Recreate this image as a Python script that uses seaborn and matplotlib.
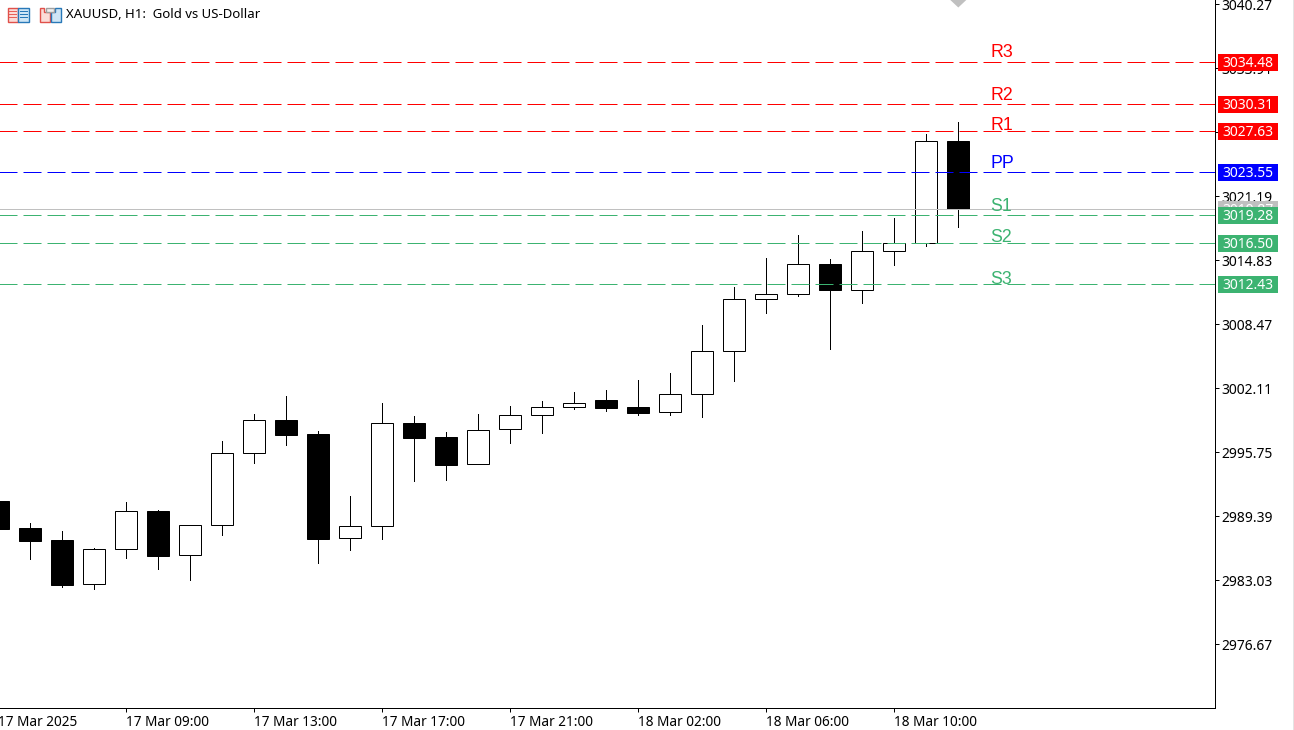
import matplotlib

matplotlib.use("Agg")
import matplotlib.pyplot as plt
import numpy as np
import pandas as pd
import seaborn as sns
from matplotlib.patches import Polygon, Rectangle
from matplotlib.transforms import IdentityTransform

WIDTH, HEIGHT = 1294, 730
PX = 0.72  # one pixel in points at dpi 100

bar_open = [2990.92, 2988.24, 2987.02, 2982.65, 2986.12, 2989.90, 2985.53, 2988.51, 2995.66, 2998.93, 2997.57,
            2987.22, 2988.41, 2998.64, 2997.28, 2994.59, 2998.04, 2999.43, 3000.23, 3000.92, 3000.23, 2999.73,
            3001.52, 3005.79, 3010.95, 3011.45, 3014.43, 3011.90, 3015.72, 3016.51, 3026.67]
bar_high = [2990.92, 2988.71, 2987.94, 2986.25, 2990.82, 2990.03, 2988.51, 2996.88, 2999.56, 3001.35, 2997.84,
            2991.42, 3000.65, 2999.36, 2997.77, 2999.56, 3000.35, 3000.85, 3001.74, 3001.94, 3002.94, 3003.60,
            3008.37, 3012.14, 3015.02, 3017.33, 3014.95, 3017.73, 3019.02, 3027.36, 3028.56]
bar_low = [2988.14, 2985.19, 2982.41, 2982.21, 2985.29, 2984.20, 2983.11, 2987.57, 2994.72, 2996.51, 2984.79,
           2986.08, 2987.18, 2992.94, 2993.01, 2994.59, 2996.71, 2997.70, 3000.06, 2999.89, 2999.49, 2999.49,
           2999.29, 3002.87, 3009.62, 3011.31, 3006.04, 3010.61, 3014.39, 3016.27, 3018.16]
bar_close = [2988.14, 2986.98, 2982.61, 2986.12, 2989.90, 2985.49, 2988.51, 2995.66, 2998.93, 2997.50, 2987.18,
             2988.41, 2998.64, 2997.21, 2994.53, 2997.94, 2999.43, 3000.23, 3000.62, 3000.19, 2999.69, 3001.52,
             3005.79, 3010.95, 3011.45, 3014.43, 3011.90, 3015.72, 3016.51, 3026.64, 3019.87]

level_names = ["R3", "R2", "R1", "PP", "S1", "S2", "S3"]
level_prices = [3034.48, 3030.31, 3027.63, 3023.55, 3019.28, 3016.50, 3012.43]
level_label_prices = [3035.04, 3030.74, 3027.76, 3024.02, 3019.72, 3016.61, 3012.47]
level_colors = ["#FF0000", "#FF0000", "#FF0000", "#0000FF", "#3CB371", "#3CB371", "#3CB371"]
level_label_bar = 31

bid_price = 3019.87
price_ticks = [3040.27, 3033.91, 3027.55, 3021.19, 3014.83, 3008.47, 3002.11, 2995.75, 2989.39, 2983.03, 2976.67]
time_ticks = [0, 4, 8, 12, 16, 20, 24, 28]
time_labels = ["17 Mar 2025", "17 Mar 09:00", "17 Mar 13:00", "17 Mar 17:00",
               "17 Mar 21:00", "18 Mar 02:00", "18 Mar 06:00", "18 Mar 10:00"]
title = "XAUUSD, H1:  Gold vs US-Dollar"

sns.set_theme(style="white", rc={"lines.scale_dashes": False})
plt.rcParams["font.family"] = ["Noto Sans", "DejaVu Sans"]
PRICE_FONT = 10.0
TIME_FONT = 9.8
TITLE_FONT = 9.5


def px_rect(fig, x, y, w, h, color, edge="none", zorder=8):
    # x, y from the top left of the picture, in pixels
    fig.add_artist(Rectangle((x, HEIGHT - y - h), w, h, transform=IdentityTransform(), facecolor=color,
                             edgecolor=edge, linewidth=1.4 * PX if edge != "none" else 0, zorder=zorder))


def price_tag(fig, ax, price, text, color, zorder):
    y = ax.transData.transform((0, price))[1]
    fig.add_artist(Rectangle((1218, y - 8.5), 60, 17, transform=IdentityTransform(), facecolor=color,
                             edgecolor="none", zorder=zorder))
    fig.text(1222, y - 1.5, text, transform=IdentityTransform(), color="white", fontsize=PRICE_FONT,
             va="center", ha="left", zorder=zorder + 0.5)


def draw_icons(fig):
    # book icon
    px_rect(fig, 7.5, 7.5, 10.5, 14.5, "#FBDCD8", "#E0504A")
    px_rect(fig, 18, 7.5, 10.5, 14.5, "#CFE6F6", "#2878B8")
    for y in (10.5, 13.5, 16.5):
        px_rect(fig, 9, y, 8, 1.6, "#E8605A", zorder=9)
        px_rect(fig, 19.5, y, 8, 1.6, "#2878B8", zorder=9)
    # two documents with the grey tab between them
    red = [(39.5, 7.5), (44, 7.5), (44, 12), (50, 12), (50, 22), (39.5, 22)]
    blue = [(50.5, 22), (50.5, 12), (55, 12), (55, 7.5), (60.5, 7.5), (60.5, 22)]
    for pts, face, edge in ((red, "#FBDCD8", "#E0504A"), (blue, "#CFE6F6", "#2878B8")):
        xy = [(x, HEIGHT - y) for x, y in pts]
        fig.add_artist(Polygon(xy, transform=IdentityTransform(), facecolor=face, edgecolor=edge,
                               linewidth=1.4 * PX, zorder=8))
    px_rect(fig, 46, 7.5, 8, 4, "#F0F0F0", "#A0A0A0")


def main():
    candles = pd.DataFrame({"bar": np.arange(len(bar_open)), "open": bar_open, "high": bar_high,
                            "low": bar_low, "close": bar_close})
    candles["height"] = (candles["close"] - candles["open"]).abs()
    candles["bottom"] = candles[["open", "close"]].min(axis=1)
    wicks = candles.melt(id_vars="bar", value_vars=["high", "low"], value_name="price")

    fig = plt.figure(figsize=(WIDTH / 100, HEIGHT / 100), dpi=100, facecolor="white")
    ax = fig.add_axes([-1.7 / WIDTH, 22 / HEIGHT, 1217.0 / WIDTH, 708 / HEIGHT])

    sns.lineplot(data=wicks, x="bar", y="price", units="bar", estimator=None, sort=False, color="black",
                 linewidth=PX, ax=ax, zorder=0.5, antialiased=False)
    for rising, face in ((True, "white"), (False, "black")):
        subset = candles[(candles["close"] >= candles["open"]) == rising]
        sns.barplot(data=subset, x="bar", y="height", bottom=subset["bottom"].to_numpy(), native_scale=True,
                    width=0.6875, color=face, saturation=1, edgecolor="black", linewidth=PX,
                    errorbar=None, ax=ax, zorder=1)

    for name, price, label_price, color in zip(level_names, level_prices, level_label_prices, level_colors):
        ax.axhline(price, color=color, linewidth=PX, linestyle=(0, (18 * PX, 6 * PX)), zorder=3)
        ax.text(level_label_bar, label_price, name, color=color, fontsize=12.8, family="Liberation Sans",
                va="baseline", ha="left", zorder=4)
    ax.axhline(bid_price, color="#C0C0C0", linewidth=PX, zorder=2.5)

    ax.set_xlim(0, 1217.0 / 32)
    ax.set_ylim(2970.36, 3040.67)
    ax.set(xlabel="", ylabel="")
    ax.set_xticks(time_ticks, time_labels, ha="left", fontsize=TIME_FONT)
    ax.set_yticks(price_ticks, [f"{p:.2f}" for p in price_ticks], fontsize=PRICE_FONT)
    ax.yaxis.tick_right()
    ax.tick_params(axis="both", length=4 * PX, width=PX, color="black", labelcolor="black")
    ax.tick_params(axis="x", bottom=True, pad=2)
    ax.tick_params(axis="y", right=True, left=False, pad=1.2)
    for side in ("top", "left"):
        ax.spines[side].set_visible(False)
    for side in ("right", "bottom"):
        ax.spines[side].set_color("black")
        ax.spines[side].set_linewidth(PX)

    # silver marker of the last bar, cut by the top edge
    tip_x = ax.transData.transform((30, 0))[0]
    fig.add_artist(Polygon([(tip_x - 8, HEIGHT), (tip_x + 8, HEIGHT), (tip_x, HEIGHT - 7.5)],
                           transform=IdentityTransform(), facecolor="#C0C0C0", edgecolor="none", zorder=6))

    price_tag(fig, ax, bid_price, f"{bid_price:.2f}", "#C0C0C0", 5)
    for price, color in zip(level_prices, level_colors):
        price_tag(fig, ax, price, f"{price:.2f}", color, 6)

    fig.add_artist(Rectangle((1293, 0), 1, HEIGHT, transform=IdentityTransform(), facecolor="#E4E4E4",
                             edgecolor="none", zorder=1))
    draw_icons(fig)
    fig.text(66, HEIGHT - 15, title, transform=IdentityTransform(), color="black", fontsize=TITLE_FONT,
             va="center", ha="left")

    fig.savefig("out.png", dpi=100)


if __name__ == "__main__":
    main()
